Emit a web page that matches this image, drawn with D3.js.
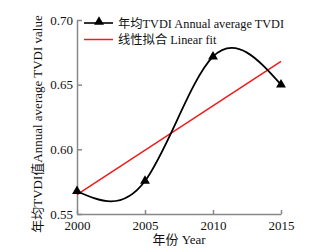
<!DOCTYPE html>
<html>
<head>
<meta charset="utf-8">
<style>
    body { margin: 0; background: #fff; }
    text { font-family: "Liberation Serif", "Noto Sans CJK SC", serif; font-size: 13px; fill: #111; }
    .legend text { font-size: 12.3px; }
</style>
</head>
<body>
<svg class="chart" width="336" height="252"></svg>
<script src="https://cdn.jsdelivr.net/npm/d3@7"></script>
<script>
    // data
    var years = [2000, 2005, 2010, 2015],
        tvdi = [0.5676, 0.5755, 0.6716, 0.650],
        fitYears = [2000, 2015],
        fitValues = [0.565, 0.668],
        xTicks = [2000, 2005, 2010, 2015],
        yTicks = [0.55, 0.60, 0.65, 0.70];

    // plot box (note: "top" is taken by window.top)
    var plotLeft = 77, plotRight = 281,
        plotTop = 20, plotBottom = 214;

    var x = d3.scaleLinear().domain([2000, 2015]).range([plotLeft, plotRight]);
    var y = d3.scaleLinear().domain([0.55, 0.70]).range([plotBottom, plotTop]);

    var svg = d3.select('.chart');

    // axes
    var xAxis = d3.axisBottom(x).tickValues(xTicks).tickFormat(d3.format('d'))
        .tickSizeInner(-4).tickSizeOuter(0).tickPadding(8);
    var yAxis = d3.axisLeft(y).tickValues(yTicks).tickFormat(d3.format('.2f'))
        .tickSizeInner(-5).tickSizeOuter(0).tickPadding(4);

    var gx = svg.append('g')
        .attr('class', 'x axis')
        .attr('transform', 'translate(0,' + plotBottom + ')')
        .call(xAxis);
    var gy = svg.append('g')
        .attr('class', 'y axis')
        .attr('transform', 'translate(' + plotLeft + ',0)')
        .call(yAxis);

    svg.selectAll('.axis path, .axis line').attr('stroke', '#888').attr('stroke-width', 1.5);
    svg.selectAll('.axis text').attr('font-family', null).attr('font-size', null);
    gx.selectAll('text').attr('dy', '0.6em');

    // axis titles
    svg.append('text')
        .attr('x', (plotLeft + plotRight) / 2)
        .attr('y', 244)
        .attr('text-anchor', 'middle')
        .text('年份 Year');
    svg.append('text')
        .attr('transform', 'translate(42,' + ((plotTop + plotBottom) / 2 + 7) + ') rotate(-90)')
        .attr('text-anchor', 'middle')
        .text('年均TVDI值Annual average TVDI value');

    // linear fit
    var line = d3.line()
        .x(function (d) { return x(d[0]); })
        .y(function (d) { return y(d[1]); });

    svg.append('path')
        .datum(d3.zip(fitYears, fitValues))
        .attr('fill', 'none')
        .attr('stroke', '#ee1c1c')
        .attr('stroke-width', 1.5)
        .attr('d', line);

    // smooth curve through yearly values
    svg.append('path')
        .datum(d3.zip(years, tvdi))
        .attr('fill', 'none')
        .attr('stroke', '#000')
        .attr('stroke-width', 1.8)
        .attr('d', line.curve(d3.curveNatural));

    var tri = d3.symbol().type(d3.symbolTriangle).size(42);
    svg.append('g')
        .selectAll('path')
        .data(d3.zip(years, tvdi))
        .enter()
        .append('path')
        .attr('transform', function (d) { return 'translate(' + x(d[0]) + ',' + y(d[1]) + ')'; })
        .attr('d', tri)
        .attr('fill', '#000');

    // legend
    var legend = svg.append('g').attr('class', 'legend').attr('transform', 'translate(84,0)');
    legend.append('line')
        .attr('x1', 0).attr('x2', 29).attr('y1', 23).attr('y2', 23)
        .attr('stroke', '#333').attr('stroke-width', 2);
    legend.append('path')
        .attr('transform', 'translate(15,22)')
        .attr('d', tri)
        .attr('fill', '#000');
    legend.append('text').attr('x', 34).attr('y', 27.5).text('年均TVDI Annual average TVDI');
    legend.append('line')
        .attr('x1', 0).attr('x2', 29).attr('y1', 39.5).attr('y2', 39.5)
        .attr('stroke', '#ee1c1c').attr('stroke-width', 1.5);
    legend.append('text').attr('x', 34).attr('y', 44).text('线性拟合 Linear fit');
</script>
</body>
</html>
